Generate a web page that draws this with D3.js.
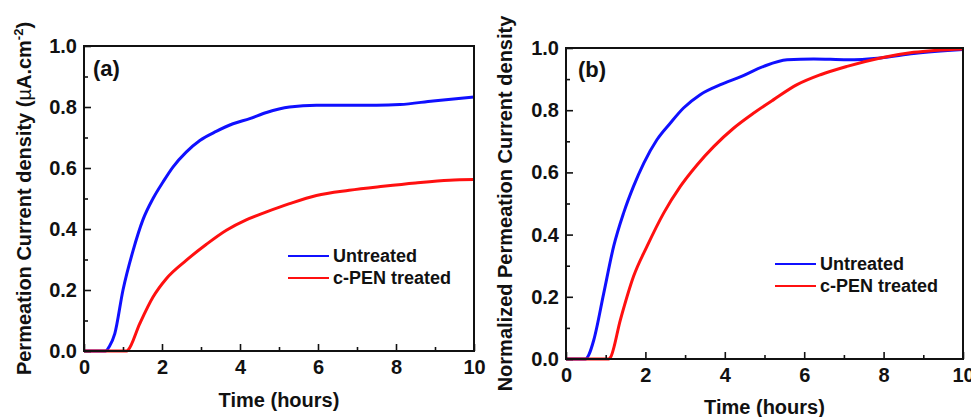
<!DOCTYPE html>
<html>
<head>
<meta charset="utf-8">
<script src="https://cdn.jsdelivr.net/npm/d3@7"></script>
<style>
  html, body { margin: 0; padding: 0; background: #fff; }
  svg { display: block; }
  text { font-family: "Liberation Sans", Arial, sans-serif; font-weight: bold; fill: #111; }
</style>
</head>
<body>
<svg id="chart" width="971" height="417"></svg>
<script>
// Permeation transients: time in hours, current density in µA/cm²
const timeBlueA = [0, 0.3, 0.55, 0.65, 0.79, 1.0, 1.26, 1.51, 1.77, 2.03, 2.28, 2.62, 2.97, 3.39, 3.82, 4.25, 4.68, 5.27, 5.96, 6.8, 7.5, 8.1, 8.95, 10];
const valBlueA  = [0, 0, 0, 0.015, 0.057, 0.2, 0.33, 0.43, 0.5, 0.555, 0.603, 0.652, 0.69, 0.72, 0.745, 0.762, 0.782, 0.80, 0.806, 0.806, 0.806, 0.808, 0.82, 0.833];
const timeRedA  = [0, 0.6, 1.1, 1.13, 1.43, 1.77, 2.11, 2.62, 3.14, 3.65, 4.16, 4.68, 5.27, 5.96, 6.8, 7.67, 8.5, 9.37, 10];
const valRedA   = [0, 0, 0, 0.003, 0.09, 0.177, 0.237, 0.297, 0.35, 0.396, 0.43, 0.456, 0.483, 0.51, 0.527, 0.54, 0.551, 0.56, 0.562];

// Same transients normalised to their final value
const timeBlueB = [0, 0.3, 0.49, 0.58, 0.7, 0.95, 1.2, 1.45, 1.7, 1.96, 2.29, 2.63, 2.96, 3.38, 3.89, 4.39, 4.98, 5.57, 6.24, 7.08, 7.92, 8.76, 10];
const valBlueB  = [0, 0, 0, 0.015, 0.061, 0.211, 0.362, 0.469, 0.555, 0.63, 0.705, 0.759, 0.807, 0.85, 0.882, 0.907, 0.941, 0.962, 0.965, 0.962, 0.968, 0.982, 0.995];
const timeRedB  = [0, 0.6, 1.08, 1.12, 1.37, 1.7, 2.04, 2.46, 2.88, 3.3, 3.72, 4.22, 4.73, 5.23, 5.82, 6.41, 7.08, 7.92, 8.76, 10];
const valRedB   = [0, 0, 0, 0.005, 0.126, 0.265, 0.362, 0.469, 0.555, 0.624, 0.683, 0.742, 0.791, 0.834, 0.882, 0.914, 0.941, 0.968, 0.986, 0.997];

const seriesNames = ["Untreated", "c-PEN treated"];
const seriesColors = ["#1010ff", "#ff1010"];
const xMajorTicks = [0, 2, 4, 6, 8, 10];
const xMinorTicks = [1, 3, 5, 7, 9];
const yMajorTicks = [0, 0.2, 0.4, 0.6, 0.8, 1.0];
const yMinorTicks = [0.1, 0.3, 0.5, 0.7, 0.9];

const svg = d3.select("#chart");

function zip(ts, vs) { return ts.map((t, i) => ({ t, v: vs[i] })); }

function panel(opts) {
  const { left, right, top, bottom, tag, tagPos, yTitle, yTitleX, xTitleY, legend, series } = opts;
  const g = svg.append("g");
  const x = d3.scaleLinear().domain([0, 10]).range([left, right]);
  const y = d3.scaleLinear().domain([0, 1]).range([bottom, top]);

  const fmt = d3.format(".1f");

  // curves
  const line = d3.line().x(d => x(d.t)).y(d => y(d.v)).curve(d3.curveMonotoneX);
  series.forEach((s, i) => {
    g.append("path")
      .datum(s)
      .attr("fill", "none")
      .attr("stroke", seriesColors[i])
      .attr("stroke-width", 3)
      .attr("stroke-linejoin", "round")
      .attr("d", line);
  });

  // axes with ticks pointing into the plot
  g.append("g").attr("transform", `translate(0,${bottom})`)
    .call(d3.axisBottom(x).tickValues(xMajorTicks).tickFormat(d3.format("d"))
      .tickSizeInner(-7).tickSizeOuter(0).tickPadding(9));
  g.append("g").attr("transform", `translate(0,${bottom})`)
    .call(d3.axisBottom(x).tickValues(xMinorTicks).tickFormat("")
      .tickSizeInner(-4).tickSizeOuter(0));

  g.append("g").attr("transform", `translate(${left},0)`)
    .call(d3.axisLeft(y).tickValues(yMajorTicks).tickFormat(fmt)
      .tickSizeInner(-7).tickSizeOuter(0).tickPadding(7));
  g.append("g").attr("transform", `translate(${left},0)`)
    .call(d3.axisLeft(y).tickValues(yMinorTicks).tickFormat("")
      .tickSizeInner(-4).tickSizeOuter(0));

  g.selectAll(".tick line").attr("stroke", "#111").attr("stroke-width", 1.6);
  g.selectAll(".domain").remove();
  g.selectAll(".tick text")
    .attr("font-family", "Liberation Sans, Arial, sans-serif")
    .attr("font-weight", "bold")
    .attr("font-size", 20)
    .attr("fill", "#111");

  // frame
  g.append("rect")
    .attr("x", left).attr("y", top)
    .attr("width", right - left).attr("height", bottom - top)
    .attr("fill", "none").attr("stroke", "#111").attr("stroke-width", 2);

  // panel tag
  g.append("text").attr("x", tagPos[0]).attr("y", tagPos[1])
    .attr("font-size", 22).text(tag);

  // x title
  g.append("text")
    .attr("x", (left + right) / 2).attr("y", xTitleY)
    .attr("text-anchor", "middle").attr("font-size", 20)
    .text("Time (hours)");

  // y title
  const yt = g.append("text")
    .attr("transform", `translate(${yTitleX},${(top + bottom) / 2}) rotate(-90)`)
    .attr("text-anchor", "middle").attr("font-size", 20);
  yTitle(yt);

  // legend
  seriesNames.forEach((name, i) => {
    const ly = legend[1] + i * 22;
    g.append("line")
      .attr("x1", legend[0]).attr("x2", legend[0] + 41)
      .attr("y1", ly).attr("y2", ly)
      .attr("stroke", seriesColors[i]).attr("stroke-width", 2.2);
    g.append("text")
      .attr("x", legend[0] + 45).attr("y", ly + 6)
      .attr("font-size", 18).text(name);
  });
}

panel({
  left: 84, right: 474, top: 46, bottom: 351,
  tag: "(a)", tagPos: [93, 76],
  yTitleX: 31, xTitleY: 407,
  legend: [288, 256],
  series: [zip(timeBlueA, valBlueA), zip(timeRedA, valRedA)],
  yTitle: t => {
    t.append("tspan").text("Permeation Current density (");
    t.append("tspan").attr("font-weight", "normal").text("µ");
    t.append("tspan").text("A.cm");
    t.append("tspan").attr("font-size", 13).attr("dy", -8).text("-2");
    t.append("tspan").attr("dy", 8).text(")");
  }
});

panel({
  left: 566, right: 963, top: 48, bottom: 359,
  tag: "(b)", tagPos: [578, 77],
  yTitleX: 512, xTitleY: 414,
  legend: [775, 264],
  series: [zip(timeBlueB, valBlueB), zip(timeRedB, valRedB)],
  yTitle: t => t.text("Normalized Permeation Current density")
});
</script>
</body>
</html>
